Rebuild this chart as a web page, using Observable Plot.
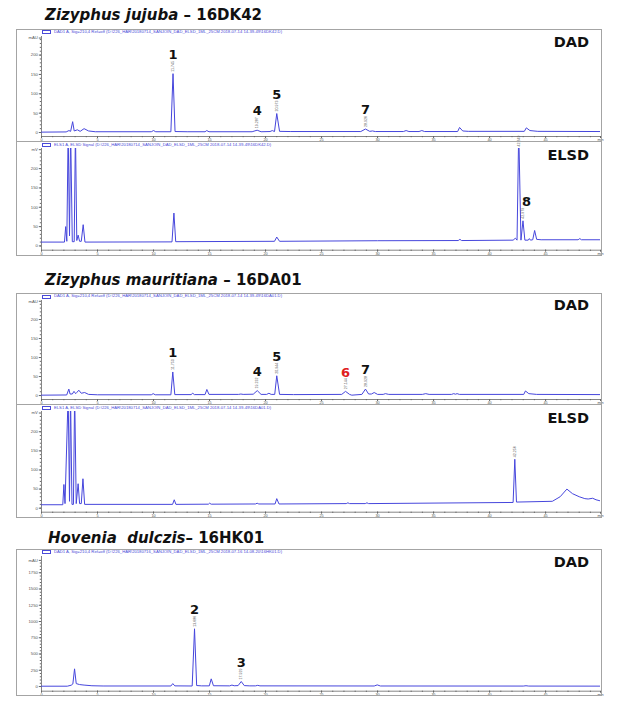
<!DOCTYPE html>
<html>
<head>
<meta charset="utf-8">
<script src="https://cdn.jsdelivr.net/npm/d3@7"></script>
<script src="https://cdn.jsdelivr.net/npm/@observablehq/plot@0.6"></script>
<style>
  body { margin: 0; background: #fff; }
  #root { position: relative; width: 617px; height: 703px; overflow: hidden; background: #fff; font-family: "DejaVu Sans", sans-serif; }
  .title { position: absolute; font-weight: bold; font-size: 15px; line-height: 1; color: #111; white-space: pre; }
  .det { position: absolute; font-weight: bold; font-size: 14.5px; line-height: 1; color: #111; right: 28px; }
  .box { position: absolute; left: 16px; width: 586px; border: 1px solid #a4a4a4; box-sizing: border-box; pointer-events: none; }
  .leg { position: absolute; left: 54px; font-family: "Liberation Sans", Arial, sans-serif; font-size: 4.2px; line-height: 1; color: #4a4ad8; white-space: pre; }
  .sw { position: absolute; left: 42px; width: 7px; height: 2px; border: 0.8px solid #4a4ad8; }
  svg.panel { position: absolute; left: 16px; }
</style>
</head>
<body>
<div id="root"></div>
<script>
// ---------------- data ----------------
const xMajor = [0, 5, 10, 15, 20, 25, 30, 35, 40, 45];
const xEnd = 49.9;
const yMajorSmall = [0, 50, 100, 150, 200];
const yMajorLarge = [0, 250, 500, 750, 1000, 1250, 1500, 1750];

// Zizyphus jujuba – DAD  [time (min), signal (mAU)]
const dad1Trace = [
  [0,1],[2.2,1.5],[2.45,5],[2.6,3],[2.78,28],[2.92,4],[3.2,7],[3.45,3],[3.8,10],[4.2,4],[4.8,2],
  [9.8,2],[10.0,5],[10.2,2],[11.55,2],[11.74,152],[11.92,2.5],[13.0,2],[14.6,2],[14.75,5],[14.95,2],
  [18.8,2],[19.25,6],[19.6,2],[20.4,2.5],[20.6,5],[20.8,2.5],[21.0,49],[21.25,3],[22.2,2.5],
  [28.5,2.5],[28.92,9],[29.3,3],[29.55,4],[29.8,2.5],[32.3,2.5],[32.55,5],[32.8,2.5],[33.7,2.5],[33.95,5],[34.2,2.5],
  [37.15,2.5],[37.32,13],[37.6,4],[38.1,3],[43.1,3],[43.28,12],[43.6,5],[44.3,3],[49.9,2.5]
];
// Zizyphus jujuba – ELSD  [time (min), signal (mV)]
const elsd1Trace = [
  [0,10],[2.05,10],[2.16,50],[2.26,12],[2.38,300],[2.5,26],[2.6,300],[2.75,11],[2.92,11],[3.03,300],[3.15,14],
  [3.27,28],[3.4,12],[3.55,12],[3.72,55],[3.88,10],[11.65,10.5],[11.82,85],[11.98,11],[20.8,12],[21.0,23],[21.25,12],
  [30,13.5],[37.2,14],[37.35,17],[37.5,14],[42.1,15],[42.3,20],[42.45,15],[42.6,300],[42.8,15],[42.98,65],[43.15,15],
  [43.45,15],[43.55,19],[43.65,15],[43.85,16],[44.02,40],[44.2,17],[44.6,16],[47.9,16],[48.05,19],[48.2,16],[49.9,16]
];
// Zizyphus mauritiana – DAD
const dad2Trace = [
  [0,1],[2.25,1.5],[2.44,17],[2.55,4],[2.75,4],[2.9,11],[3.05,5],[3.15,8],[3.33,14],[3.55,6],[3.85,8],[4.2,3],[5,2],
  [9.8,2],[9.97,5],[10.15,2],[11.55,2],[11.72,62],[11.9,2.5],[13.35,2.5],[13.5,6],[13.65,2.5],[14.6,2.5],[14.76,16],[14.95,3],
  [17.6,3],[17.8,4],[18.0,3],[18.9,3.5],[19.26,13],[19.6,3],[20.1,3],[20.3,6],[20.5,3],[20.82,3],[21.0,52],[21.25,3],[22.5,2.5],
  [26.8,3],[27.14,11],[27.5,3],[27.7,1],[28.6,3],[28.92,17],[29.2,4],[29.45,4],[29.7,8],[30.0,3],[30.5,3],[30.7,5],[31.0,3],
  [34.0,3],[34.3,5],[34.6,3],[36.6,3],[36.8,5],[36.95,3.5],[37.1,5],[37.3,3],[43.05,3],[43.2,12],[43.5,5],[44.2,3],[49.9,2.5]
];
// Zizyphus mauritiana – ELSD
const elsd2Trace = [
  [0,9],[1.9,9],[2.0,62],[2.1,12],[2.38,300],[2.5,18],[2.59,300],[2.72,10],[2.85,10],[2.96,300],[3.1,12],[3.27,64],[3.4,12],
  [3.55,12],[3.7,77],[3.85,10],[11.7,10],[11.85,22],[12.0,10],[14.9,10.5],[15.0,13],[15.15,10.5],[19.1,11],[19.25,13],[19.4,11],
  [20.85,11],[21.0,25],[21.2,11],[27.2,12],[27.35,14],[27.5,12],[28.9,12],[29.05,14],[29.2,12],[42.1,15],[42.25,128],[42.4,16],
  [45.6,18],[46.3,30],[46.9,50],[47.4,38],[48.0,30],[48.5,25],[48.8,24],[49.2,26],[49.5,22],[49.9,19]
];
// Hovenia dulczis – DAD
const dad3Trace = [
  [0,5],[2.3,5],[2.65,20],[2.8,40],[2.95,272],[3.1,45],[3.4,30],[3.8,22],[4.5,12],[5.5,8],[11.55,8],[11.72,45],[11.9,10],
  [13.45,8],[13.66,888],[13.85,15],[14.3,10],[14.98,10],[15.15,118],[15.35,12],[16.8,10],[17.0,22],[17.2,12],[17.55,14],
  [17.83,77],[18.1,14],[18.6,10],[19.1,10],[19.3,18],[19.5,10],[29.7,8],[29.97,25],[30.25,8],[43.0,7],[43.25,12],[43.5,7],[49.9,6]
];

// peak annotations: number, retention time, apex signal, printed retention time
const dad1Peaks  = [
  {n: "1", rt: 11.74, h: 152, t: "11.745"}, {n: "4", rt: 19.25, h: 6, t: "19.287"},
  {n: "5", rt: 21.0, h: 49, t: "20.973"}, {n: "7", rt: 28.92, h: 9, t: "28.926"}
];
const elsd1Peaks = [{n: "", rt: 42.6, h: 300, t: "42.649"}, {n: "8", rt: 42.98, h: 65, t: "42.979"}];
const dad2Peaks  = [
  {n: "1", rt: 11.72, h: 62, t: "11.750"}, {n: "4", rt: 19.26, h: 13, t: "19.232"},
  {n: "5", rt: 21.0, h: 52, t: "20.944"}, {n: "7", rt: 28.92, h: 17, t: "28.928"}
];
const dad2RedPeaks = [{n: "6", rt: 27.14, h: 11, t: "27.144"}];
const elsd2Peaks = [{n: "", rt: 42.25, h: 128, t: "42.256"}];
const dad3Peaks  = [{n: "2", rt: 13.66, h: 888, t: "13.686"}, {n: "3", rt: 17.83, h: 77, t: "17.929"}];

// ---------------- drawing ----------------
const root = document.getElementById("root");
const traceColor = "#4646dc";
const axisColor = "#666";

function panel(cfg) {
  const top = cfg.yDomain[1];
  const clampY = d => Math.min(d.h, top);
  const marks = [
    Plot.ruleX([0], {stroke: axisColor, strokeWidth: 0.8}),
    Plot.ruleY([cfg.yDomain[0]], {stroke: axisColor, strokeWidth: 0.8}),
    Plot.axisX({ticks: d3.range(0, 50, 1), tickSize: 1.2, tickFormat: () => "", stroke: axisColor, label: null}),
    Plot.axisX({ticks: xMajor.concat([xEnd]), tickSize: 2, tickPadding: 0, label: null,
      tickFormat: d => d === xEnd ? "min" : String(d), fontSize: 3.8, fill: "#555", stroke: axisColor}),
    Plot.axisY({ticks: cfg.yMinor, tickSize: 1.2, tickFormat: () => "", stroke: axisColor, label: null}),
    Plot.axisY({ticks: cfg.yMajor.concat([cfg.unitTick]), tickSize: 2.2, tickPadding: 1.5, label: null,
      tickFormat: d => d === cfg.unitTick ? cfg.unit : String(d), fontSize: 4.2, fill: "#555", stroke: axisColor}),
    Plot.line(cfg.trace, {x: d => d[0], y: d => d[1], stroke: traceColor, strokeWidth: 1, clip: true})
  ];
  const addLabels = (peaks, color, dx) => {
    marks.push(Plot.text(peaks, {x: "rt", y: clampY, text: "t", rotate: -90, textAnchor: "start", dy: -2, dx: 0,
      fontSize: 3.6, fill: "#555", fontFamily: "Liberation Sans, Arial, sans-serif"}));
    marks.push(Plot.text(peaks, {x: "rt", y: clampY, text: "n", dy: -19, dx: dx || 0, fontSize: 13, fontWeight: "bold",
      fill: color, fontFamily: "DejaVu Sans, sans-serif"}));
  };
  (cfg.labels || []).forEach(l => addLabels(l.peaks, l.color, l.dx));
  const svg = Plot.plot({
    width: 586, height: cfg.height,
    marginLeft: 25, marginRight: 2, marginTop: cfg.marginTop, marginBottom: cfg.marginBottom,
    x: {domain: [0, xEnd], label: null},
    y: {domain: cfg.yDomain, label: null},
    style: {background: "transparent", overflow: "visible", fontFamily: "Liberation Sans, Arial, sans-serif"},
    marks
  });
  svg.classList.add("panel");
  svg.style.top = cfg.top + "px";
  svg.style.position = "absolute";
  svg.style.left = "16px";
  root.appendChild(svg);
  const box = document.createElement("div");
  box.className = "box";
  box.style.top = cfg.top + "px";
  box.style.height = (cfg.height + 1) + "px";
  root.appendChild(box);
  const sw = document.createElement("div");
  sw.className = "sw";
  sw.style.top = (cfg.legendY - 1.5) + "px";
  root.appendChild(sw);
  const leg = document.createElement("div");
  leg.className = "leg";
  leg.style.top = (cfg.legendY - 1.8) + "px";
  leg.textContent = cfg.legend;
  root.appendChild(leg);
}

function text(cls, html, left, baseline, size) {
  const d = document.createElement("div");
  d.className = cls;
  d.innerHTML = html;
  if (left !== null) d.style.left = left + "px";
  d.style.top = (baseline - 0.846 * size) + "px";
  root.appendChild(d);
}

const smallMinor = d3.range(0, 250, 10);
const largeMinor = d3.range(0, 1950, 50);

panel({top: 29, height: 112, marginTop: 7, marginBottom: 5, yDomain: [-10.3, 248], trace: dad1Trace,
  yMajor: yMajorSmall, yMinor: smallMinor, unitTick: 244, unit: "mAU", legendY: 31.7,
  legend: "DAD1 A, Sig=210,4 Ref=off (D:\\226_HAR\\20180714_SANJOIN_DAD_ELSD_1ML_25CM 2018-07-14 14-39-49\\16DK42.D)",
  labels: [{peaks: dad1Peaks, color: "#111"}]});
panel({top: 141, height: 114, marginTop: 7, marginBottom: 5.3, yDomain: [-11, 252], trace: elsd1Trace,
  yMajor: yMajorSmall, yMinor: smallMinor, unitTick: 249, unit: "mV", legendY: 144.3,
  legend: "ELS1 A, ELSD Signal (D:\\226_HAR\\20180714_SANJOIN_DAD_ELSD_1ML_25CM 2018-07-14 14-39-49\\16DK42.D)",
  labels: [{peaks: elsd1Peaks, color: "#111", dx: 3.5}]});
panel({top: 293, height: 111, marginTop: 7, marginBottom: 5, yDomain: [-10.4, 250], trace: dad2Trace,
  yMajor: yMajorSmall, yMinor: smallMinor, unitTick: 248, unit: "mAU", legendY: 296,
  legend: "DAD1 A, Sig=210,4 Ref=off (D:\\226_HAR\\20180714_SANJOIN_DAD_ELSD_1ML_25CM 2018-07-14 14-39-49\\16DA01.D)",
  labels: [{peaks: dad2Peaks, color: "#111"}, {peaks: dad2RedPeaks, color: "#e02020"}]});
panel({top: 404, height: 113, marginTop: 7, marginBottom: 5.3, yDomain: [-10.5, 253], trace: elsd2Trace,
  yMajor: yMajorSmall, yMinor: smallMinor, unitTick: 249, unit: "mV", legendY: 407.3,
  legend: "ELS1 A, ELSD Signal (D:\\226_HAR\\20180714_SANJOIN_DAD_ELSD_1ML_25CM 2018-07-14 14-39-49\\16DA01.D)",
  labels: [{peaks: elsd2Peaks, color: "#111"}]});
panel({top: 549, height: 146, marginTop: 7, marginBottom: 4.3, yDomain: [-72, 2000], trace: dad3Trace,
  yMajor: yMajorLarge, yMinor: largeMinor, unitTick: 1940, unit: "mAU", legendY: 551.7,
  legend: "DAD1 A, Sig=210,4 Ref=off (D:\\226_HAR\\20180716_SANJOIN_DAD_ELSD_1ML_25CM 2018-07-16 14-08-20\\16HK01.D)",
  labels: [{peaks: dad3Peaks, color: "#111"}]});

text("title", "<i>Zizyphus jujuba</i> – 16DK42", 45, 20.7, 15);
text("title", "<i>Zizyphus mauritiana</i> – 16DA01", 45, 285.7, 15);
text("title", "<i>Hovenia  dulczis</i>– 16HK01", 48, 544, 15);
text("det", "DAD", null, 47.3, 14.5);
text("det", "ELSD", null, 160.7, 14.5);
text("det", "DAD", null, 310.7, 14.5);
text("det", "ELSD", null, 423.7, 14.5);
text("det", "DAD", null, 567.7, 14.5);
</script>
</body>
</html>
